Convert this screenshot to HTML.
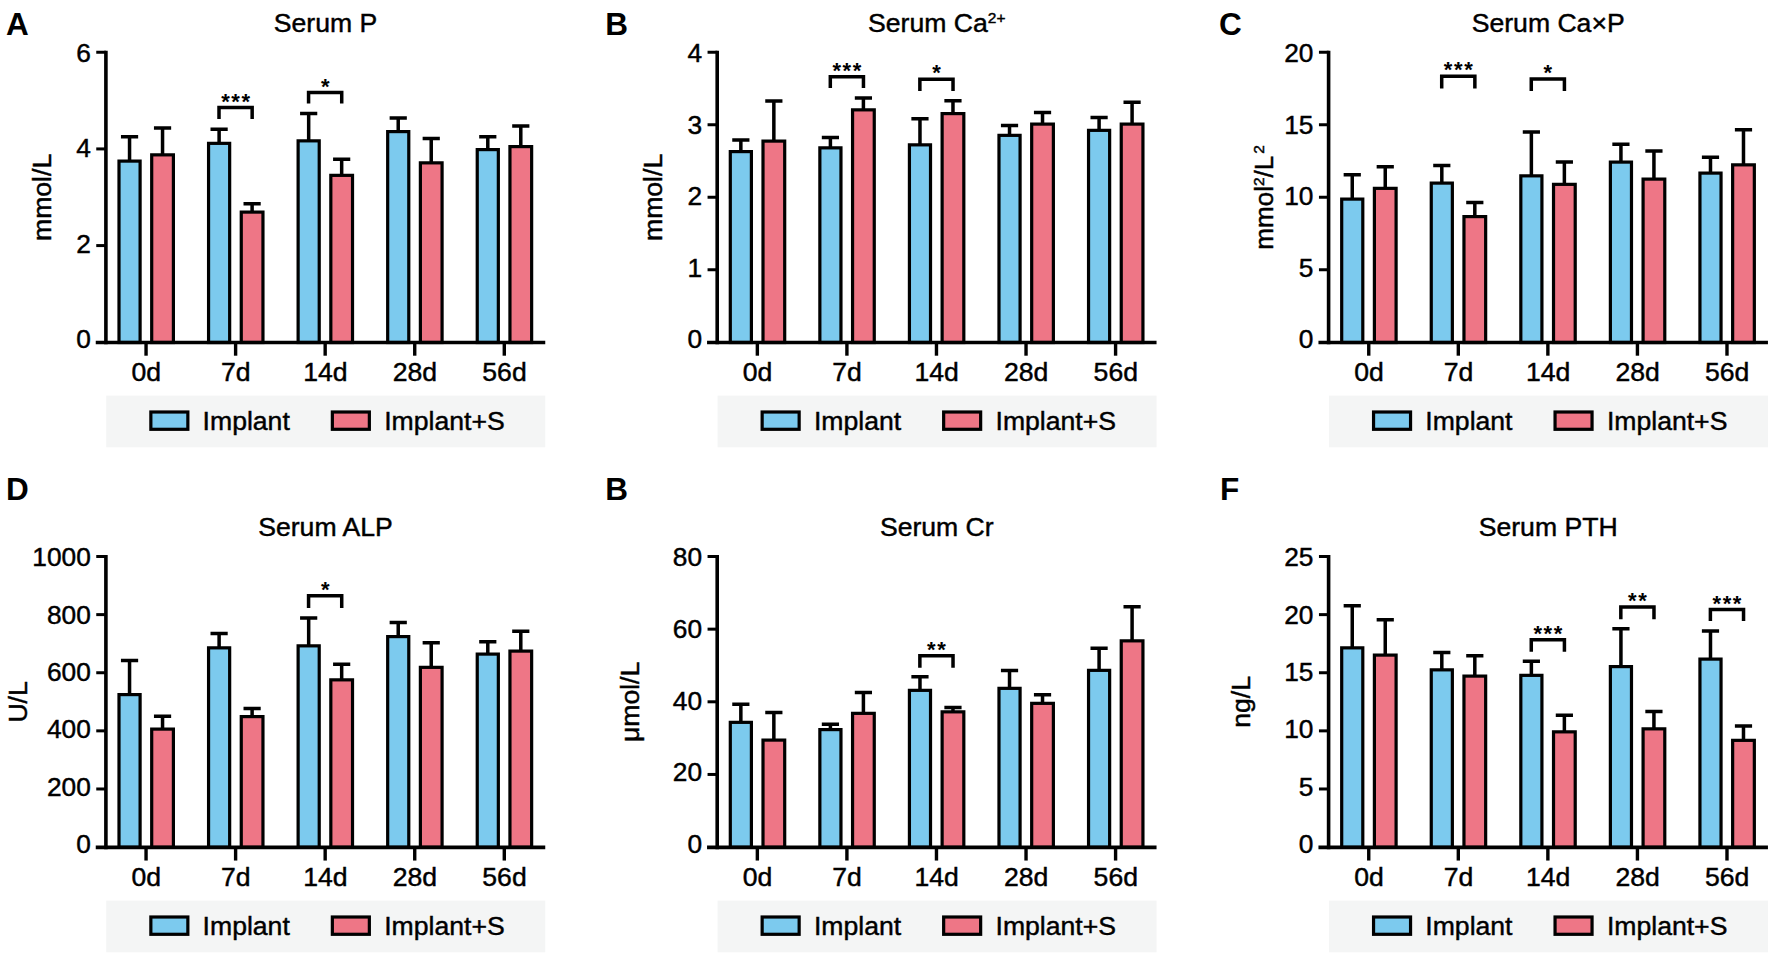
<!DOCTYPE html>
<html lang="en">
<head>
<meta charset="utf-8">
<title>Serum biochemistry: Implant vs Implant+S</title>
<style>
html,body{margin:0;padding:0;background:#fff;}
body{width:1772px;height:956px;overflow:hidden;font-family:"Liberation Sans",sans-serif;}
svg{display:block;}
</style>
</head>
<body>
<svg width="1772" height="956" viewBox="0 0 1772 956">
<rect x="0" y="0" width="1772" height="956" fill="#fff"/>
<g font-family="'Liberation Sans', sans-serif" fill="#000" stroke="#000" stroke-width="0.45">
<g>
<rect x="106.25" y="395.6" width="439" height="51.7" fill="#F4F5F5" stroke="none"/>
<path d="M129.55 160.5 V136.7 M120.95 136.7H138.15" stroke="#000" stroke-width="3.5" fill="none"/>
<rect x="119" y="161.1" width="21.1" height="181.4" fill="#7CCAEE" stroke="#000" stroke-width="3.2"/>
<path d="M162.55 154.25 V127.95 M153.95 127.95H171.15" stroke="#000" stroke-width="3.5" fill="none"/>
<rect x="151.7" y="154.85" width="21.7" height="187.65" fill="#EE7686" stroke="#000" stroke-width="3.2"/>
<path d="M219.11 142.75 V129.2 M210.51 129.2H227.71" stroke="#000" stroke-width="3.5" fill="none"/>
<rect x="208.56" y="143.35" width="21.1" height="199.15" fill="#7CCAEE" stroke="#000" stroke-width="3.2"/>
<path d="M252.11 211.5 V203.7 M243.51 203.7H260.71" stroke="#000" stroke-width="3.5" fill="none"/>
<rect x="241.26" y="212.1" width="21.7" height="130.4" fill="#EE7686" stroke="#000" stroke-width="3.2"/>
<path d="M308.67 140.25 V113.45 M300.07 113.45H317.27" stroke="#000" stroke-width="3.5" fill="none"/>
<rect x="298.12" y="140.85" width="21.1" height="201.65" fill="#7CCAEE" stroke="#000" stroke-width="3.2"/>
<path d="M341.67 174.75 V159.2 M333.07 159.2H350.27" stroke="#000" stroke-width="3.5" fill="none"/>
<rect x="330.82" y="175.35" width="21.7" height="167.15" fill="#EE7686" stroke="#000" stroke-width="3.2"/>
<path d="M398.23 131 V117.95 M389.63 117.95H406.83" stroke="#000" stroke-width="3.5" fill="none"/>
<rect x="387.68" y="131.6" width="21.1" height="210.9" fill="#7CCAEE" stroke="#000" stroke-width="3.2"/>
<path d="M431.23 162.25 V138.45 M422.63 138.45H439.83" stroke="#000" stroke-width="3.5" fill="none"/>
<rect x="420.38" y="162.85" width="21.7" height="179.65" fill="#EE7686" stroke="#000" stroke-width="3.2"/>
<path d="M487.79 149 V136.7 M479.19 136.7H496.39" stroke="#000" stroke-width="3.5" fill="none"/>
<rect x="477.24" y="149.6" width="21.1" height="192.9" fill="#7CCAEE" stroke="#000" stroke-width="3.2"/>
<path d="M520.79 146 V125.9 M512.19 125.9H529.39" stroke="#000" stroke-width="3.5" fill="none"/>
<rect x="509.94" y="146.6" width="21.7" height="195.9" fill="#EE7686" stroke="#000" stroke-width="3.2"/>
<path d="M219.01 118.9V107.4H252.16V118.9" stroke="#000" stroke-width="3.5" fill="none"/>
<text x="236.41" y="108.55" font-size="22" font-weight="bold" stroke="none" letter-spacing="1.6" text-anchor="middle">***</text>
<path d="M308.57 103.4V92.4H341.72V103.4" stroke="#000" stroke-width="3.5" fill="none"/>
<text x="325.97" y="93.55" font-size="22" font-weight="bold" stroke="none" letter-spacing="1.6" text-anchor="middle">*</text>
<path d="M105.9 50.75V344.3" stroke="#000" stroke-width="3.6" fill="none"/>
<path d="M95.75 342.5H545.25" stroke="#000" stroke-width="3.6" fill="none"/>
<text x="90.8" y="348" font-size="26.3" text-anchor="end">0</text>
<path d="M96.25 245.58H106" stroke="#000" stroke-width="3" fill="none"/>
<text x="90.8" y="252.7" font-size="26.3" text-anchor="end">2</text>
<path d="M96.25 148.92H106" stroke="#000" stroke-width="3" fill="none"/>
<text x="90.8" y="157.4" font-size="26.3" text-anchor="end">4</text>
<path d="M96.25 52.25H106" stroke="#000" stroke-width="3" fill="none"/>
<text x="90.8" y="62.1" font-size="26.3" text-anchor="end">6</text>
<path d="M146.05 342.5V355.7" stroke="#000" stroke-width="3.4" fill="none"/>
<text x="146.25" y="381.25" font-size="26.6" text-anchor="middle">0d</text>
<path d="M235.61 342.5V355.7" stroke="#000" stroke-width="3.4" fill="none"/>
<text x="235.81" y="381.25" font-size="26.6" text-anchor="middle">7d</text>
<path d="M325.17 342.5V355.7" stroke="#000" stroke-width="3.4" fill="none"/>
<text x="325.37" y="381.25" font-size="26.6" text-anchor="middle">14d</text>
<path d="M414.73 342.5V355.7" stroke="#000" stroke-width="3.4" fill="none"/>
<text x="414.93" y="381.25" font-size="26.6" text-anchor="middle">28d</text>
<path d="M504.29 342.5V355.7" stroke="#000" stroke-width="3.4" fill="none"/>
<text x="504.49" y="381.25" font-size="26.6" text-anchor="middle">56d</text>
<text x="325.5" y="31.75" font-size="26.6" text-anchor="middle">Serum P</text>
<text x="6" y="34.7" font-size="31.5" font-weight="bold" stroke="none">A</text>
<text transform="translate(50.8 197.38) rotate(-90)" font-size="26.6" text-anchor="middle">mmol/L</text>
<rect x="150.85" y="412" width="37" height="17.3" fill="#7CCAEE" stroke="#000" stroke-width="3.2"/>
<text x="202.6" y="429.9" font-size="26.6">Implant</text>
<rect x="332.35" y="412" width="37" height="17.3" fill="#EE7686" stroke="#000" stroke-width="3.2"/>
<text x="384.2" y="429.9" font-size="26.6">Implant+S</text>
</g>
<g>
<rect x="717.55" y="395.6" width="439" height="51.7" fill="#F4F5F5" stroke="none"/>
<path d="M740.85 151 V139.95 M732.25 139.95H749.45" stroke="#000" stroke-width="3.5" fill="none"/>
<rect x="730.3" y="151.6" width="21.1" height="190.9" fill="#7CCAEE" stroke="#000" stroke-width="3.2"/>
<path d="M773.85 140.5 V100.95 M765.25 100.95H782.45" stroke="#000" stroke-width="3.5" fill="none"/>
<rect x="763" y="141.1" width="21.7" height="201.4" fill="#EE7686" stroke="#000" stroke-width="3.2"/>
<path d="M830.41 147.25 V137.45 M821.81 137.45H839.01" stroke="#000" stroke-width="3.5" fill="none"/>
<rect x="819.86" y="147.85" width="21.1" height="194.65" fill="#7CCAEE" stroke="#000" stroke-width="3.2"/>
<path d="M863.41 109.25 V97.95 M854.81 97.95H872.01" stroke="#000" stroke-width="3.5" fill="none"/>
<rect x="852.56" y="109.85" width="21.7" height="232.65" fill="#EE7686" stroke="#000" stroke-width="3.2"/>
<path d="M919.97 144.25 V118.7 M911.37 118.7H928.57" stroke="#000" stroke-width="3.5" fill="none"/>
<rect x="909.42" y="144.85" width="21.1" height="197.65" fill="#7CCAEE" stroke="#000" stroke-width="3.2"/>
<path d="M952.97 113 V100.7 M944.37 100.7H961.57" stroke="#000" stroke-width="3.5" fill="none"/>
<rect x="942.12" y="113.6" width="21.7" height="228.9" fill="#EE7686" stroke="#000" stroke-width="3.2"/>
<path d="M1009.53 134.75 V125.45 M1000.93 125.45H1018.13" stroke="#000" stroke-width="3.5" fill="none"/>
<rect x="998.98" y="135.35" width="21.1" height="207.15" fill="#7CCAEE" stroke="#000" stroke-width="3.2"/>
<path d="M1042.53 123.5 V112.45 M1033.93 112.45H1051.13" stroke="#000" stroke-width="3.5" fill="none"/>
<rect x="1031.68" y="124.1" width="21.7" height="218.4" fill="#EE7686" stroke="#000" stroke-width="3.2"/>
<path d="M1099.09 129.75 V117.45 M1090.49 117.45H1107.69" stroke="#000" stroke-width="3.5" fill="none"/>
<rect x="1088.54" y="130.35" width="21.1" height="212.15" fill="#7CCAEE" stroke="#000" stroke-width="3.2"/>
<path d="M1132.09 123.5 V102.2 M1123.49 102.2H1140.69" stroke="#000" stroke-width="3.5" fill="none"/>
<rect x="1121.24" y="124.1" width="21.7" height="218.4" fill="#EE7686" stroke="#000" stroke-width="3.2"/>
<path d="M830.31 88.1V76.65H863.46V88.1" stroke="#000" stroke-width="3.5" fill="none"/>
<text x="847.71" y="77.8" font-size="22" font-weight="bold" stroke="none" letter-spacing="1.6" text-anchor="middle">***</text>
<path d="M919.87 90.9V79.15H953.02V90.9" stroke="#000" stroke-width="3.5" fill="none"/>
<text x="937.27" y="80.3" font-size="22" font-weight="bold" stroke="none" letter-spacing="1.6" text-anchor="middle">*</text>
<path d="M717.2 50.75V344.3" stroke="#000" stroke-width="3.6" fill="none"/>
<path d="M707.05 342.5H1156.55" stroke="#000" stroke-width="3.6" fill="none"/>
<text x="702.1" y="348" font-size="26.3" text-anchor="end">0</text>
<path d="M707.55 269.75H717.3" stroke="#000" stroke-width="3" fill="none"/>
<text x="702.1" y="276.52" font-size="26.3" text-anchor="end">1</text>
<path d="M707.55 197.25H717.3" stroke="#000" stroke-width="3" fill="none"/>
<text x="702.1" y="205.05" font-size="26.3" text-anchor="end">2</text>
<path d="M707.55 124.75H717.3" stroke="#000" stroke-width="3" fill="none"/>
<text x="702.1" y="133.57" font-size="26.3" text-anchor="end">3</text>
<path d="M707.55 52.25H717.3" stroke="#000" stroke-width="3" fill="none"/>
<text x="702.1" y="62.1" font-size="26.3" text-anchor="end">4</text>
<path d="M757.35 342.5V355.7" stroke="#000" stroke-width="3.4" fill="none"/>
<text x="757.55" y="381.25" font-size="26.6" text-anchor="middle">0d</text>
<path d="M846.91 342.5V355.7" stroke="#000" stroke-width="3.4" fill="none"/>
<text x="847.11" y="381.25" font-size="26.6" text-anchor="middle">7d</text>
<path d="M936.47 342.5V355.7" stroke="#000" stroke-width="3.4" fill="none"/>
<text x="936.67" y="381.25" font-size="26.6" text-anchor="middle">14d</text>
<path d="M1026.03 342.5V355.7" stroke="#000" stroke-width="3.4" fill="none"/>
<text x="1026.23" y="381.25" font-size="26.6" text-anchor="middle">28d</text>
<path d="M1115.59 342.5V355.7" stroke="#000" stroke-width="3.4" fill="none"/>
<text x="1115.79" y="381.25" font-size="26.6" text-anchor="middle">56d</text>
<text x="936.8" y="31.75" font-size="26.6" text-anchor="middle">Serum Ca<tspan font-size="15.5" dy="-8.8">2+</tspan></text>
<text x="605.2" y="34.7" font-size="31.5" font-weight="bold" stroke="none">B</text>
<text transform="translate(662 197.38) rotate(-90)" font-size="26.6" text-anchor="middle">mmol/L</text>
<rect x="762.15" y="412" width="37" height="17.3" fill="#7CCAEE" stroke="#000" stroke-width="3.2"/>
<text x="813.9" y="429.9" font-size="26.6">Implant</text>
<rect x="943.65" y="412" width="37" height="17.3" fill="#EE7686" stroke="#000" stroke-width="3.2"/>
<text x="995.5" y="429.9" font-size="26.6">Implant+S</text>
</g>
<g>
<rect x="1328.95" y="395.6" width="439" height="51.7" fill="#F4F5F5" stroke="none"/>
<path d="M1352.25 198.5 V174.7 M1343.65 174.7H1360.85" stroke="#000" stroke-width="3.5" fill="none"/>
<rect x="1341.7" y="199.1" width="21.1" height="143.4" fill="#7CCAEE" stroke="#000" stroke-width="3.2"/>
<path d="M1385.25 187.75 V166.7 M1376.65 166.7H1393.85" stroke="#000" stroke-width="3.5" fill="none"/>
<rect x="1374.4" y="188.35" width="21.7" height="154.15" fill="#EE7686" stroke="#000" stroke-width="3.2"/>
<path d="M1441.81 182.5 V165.45 M1433.21 165.45H1450.41" stroke="#000" stroke-width="3.5" fill="none"/>
<rect x="1431.26" y="183.1" width="21.1" height="159.4" fill="#7CCAEE" stroke="#000" stroke-width="3.2"/>
<path d="M1474.81 216 V202.45 M1466.21 202.45H1483.41" stroke="#000" stroke-width="3.5" fill="none"/>
<rect x="1463.96" y="216.6" width="21.7" height="125.9" fill="#EE7686" stroke="#000" stroke-width="3.2"/>
<path d="M1531.37 175.25 V131.95 M1522.77 131.95H1539.97" stroke="#000" stroke-width="3.5" fill="none"/>
<rect x="1520.82" y="175.85" width="21.1" height="166.65" fill="#7CCAEE" stroke="#000" stroke-width="3.2"/>
<path d="M1564.37 183.75 V161.95 M1555.77 161.95H1572.97" stroke="#000" stroke-width="3.5" fill="none"/>
<rect x="1553.52" y="184.35" width="21.7" height="158.15" fill="#EE7686" stroke="#000" stroke-width="3.2"/>
<path d="M1620.93 161.5 V144.2 M1612.33 144.2H1629.53" stroke="#000" stroke-width="3.5" fill="none"/>
<rect x="1610.38" y="162.1" width="21.1" height="180.4" fill="#7CCAEE" stroke="#000" stroke-width="3.2"/>
<path d="M1653.93 178.5 V150.95 M1645.33 150.95H1662.53" stroke="#000" stroke-width="3.5" fill="none"/>
<rect x="1643.08" y="179.1" width="21.7" height="163.4" fill="#EE7686" stroke="#000" stroke-width="3.2"/>
<path d="M1710.49 172.5 V157.2 M1701.89 157.2H1719.09" stroke="#000" stroke-width="3.5" fill="none"/>
<rect x="1699.94" y="173.1" width="21.1" height="169.4" fill="#7CCAEE" stroke="#000" stroke-width="3.2"/>
<path d="M1743.49 164.25 V129.7 M1734.89 129.7H1752.09" stroke="#000" stroke-width="3.5" fill="none"/>
<rect x="1732.64" y="164.85" width="21.7" height="177.65" fill="#EE7686" stroke="#000" stroke-width="3.2"/>
<path d="M1441.71 88.4V76.15H1474.86V88.4" stroke="#000" stroke-width="3.5" fill="none"/>
<text x="1459.11" y="77.3" font-size="22" font-weight="bold" stroke="none" letter-spacing="1.6" text-anchor="middle">***</text>
<path d="M1531.27 90.9V78.9H1564.42V90.9" stroke="#000" stroke-width="3.5" fill="none"/>
<text x="1548.67" y="80.05" font-size="22" font-weight="bold" stroke="none" letter-spacing="1.6" text-anchor="middle">*</text>
<path d="M1328.6 50.75V344.3" stroke="#000" stroke-width="3.6" fill="none"/>
<path d="M1318.45 342.5H1767.95" stroke="#000" stroke-width="3.6" fill="none"/>
<text x="1313.5" y="348" font-size="26.3" text-anchor="end">0</text>
<path d="M1318.95 269.75H1328.7" stroke="#000" stroke-width="3" fill="none"/>
<text x="1313.5" y="276.52" font-size="26.3" text-anchor="end">5</text>
<path d="M1318.95 197.25H1328.7" stroke="#000" stroke-width="3" fill="none"/>
<text x="1313.5" y="205.05" font-size="26.3" text-anchor="end">10</text>
<path d="M1318.95 124.75H1328.7" stroke="#000" stroke-width="3" fill="none"/>
<text x="1313.5" y="133.57" font-size="26.3" text-anchor="end">15</text>
<path d="M1318.95 52.25H1328.7" stroke="#000" stroke-width="3" fill="none"/>
<text x="1313.5" y="62.1" font-size="26.3" text-anchor="end">20</text>
<path d="M1368.75 342.5V355.7" stroke="#000" stroke-width="3.4" fill="none"/>
<text x="1368.95" y="381.25" font-size="26.6" text-anchor="middle">0d</text>
<path d="M1458.31 342.5V355.7" stroke="#000" stroke-width="3.4" fill="none"/>
<text x="1458.51" y="381.25" font-size="26.6" text-anchor="middle">7d</text>
<path d="M1547.87 342.5V355.7" stroke="#000" stroke-width="3.4" fill="none"/>
<text x="1548.07" y="381.25" font-size="26.6" text-anchor="middle">14d</text>
<path d="M1637.43 342.5V355.7" stroke="#000" stroke-width="3.4" fill="none"/>
<text x="1637.63" y="381.25" font-size="26.6" text-anchor="middle">28d</text>
<path d="M1726.99 342.5V355.7" stroke="#000" stroke-width="3.4" fill="none"/>
<text x="1727.19" y="381.25" font-size="26.6" text-anchor="middle">56d</text>
<text x="1548.2" y="31.75" font-size="26.6" text-anchor="middle">Serum Ca×P</text>
<text x="1219" y="34.7" font-size="31.5" font-weight="bold" stroke="none">C</text>
<text transform="translate(1273 197.38) rotate(-90)" font-size="26" text-anchor="middle">mmol<tspan font-size="15.5" dy="-9.5">2</tspan><tspan dy="9.5">/L</tspan><tspan font-size="15.5" dy="-9.5" dx="2">2</tspan></text>
<rect x="1373.55" y="412" width="37" height="17.3" fill="#7CCAEE" stroke="#000" stroke-width="3.2"/>
<text x="1425.3" y="429.9" font-size="26.6">Implant</text>
<rect x="1555.05" y="412" width="37" height="17.3" fill="#EE7686" stroke="#000" stroke-width="3.2"/>
<text x="1606.9" y="429.9" font-size="26.6">Implant+S</text>
</g>
<g>
<rect x="106.25" y="900.6" width="439" height="51.7" fill="#F4F5F5" stroke="none"/>
<path d="M129.55 694 V660.45 M120.95 660.45H138.15" stroke="#000" stroke-width="3.5" fill="none"/>
<rect x="119" y="694.6" width="21.1" height="152.75" fill="#7CCAEE" stroke="#000" stroke-width="3.2"/>
<path d="M162.55 728.5 V716.2 M153.95 716.2H171.15" stroke="#000" stroke-width="3.5" fill="none"/>
<rect x="151.7" y="729.1" width="21.7" height="118.25" fill="#EE7686" stroke="#000" stroke-width="3.2"/>
<path d="M219.11 647.25 V633.45 M210.51 633.45H227.71" stroke="#000" stroke-width="3.5" fill="none"/>
<rect x="208.56" y="647.85" width="21.1" height="199.5" fill="#7CCAEE" stroke="#000" stroke-width="3.2"/>
<path d="M252.11 716 V708.45 M243.51 708.45H260.71" stroke="#000" stroke-width="3.5" fill="none"/>
<rect x="241.26" y="716.6" width="21.7" height="130.75" fill="#EE7686" stroke="#000" stroke-width="3.2"/>
<path d="M308.67 645.25 V617.95 M300.07 617.95H317.27" stroke="#000" stroke-width="3.5" fill="none"/>
<rect x="298.12" y="645.85" width="21.1" height="201.5" fill="#7CCAEE" stroke="#000" stroke-width="3.2"/>
<path d="M341.67 679.25 V664.2 M333.07 664.2H350.27" stroke="#000" stroke-width="3.5" fill="none"/>
<rect x="330.82" y="679.85" width="21.7" height="167.5" fill="#EE7686" stroke="#000" stroke-width="3.2"/>
<path d="M398.23 636 V622.45 M389.63 622.45H406.83" stroke="#000" stroke-width="3.5" fill="none"/>
<rect x="387.68" y="636.6" width="21.1" height="210.75" fill="#7CCAEE" stroke="#000" stroke-width="3.2"/>
<path d="M431.23 666.75 V642.7 M422.63 642.7H439.83" stroke="#000" stroke-width="3.5" fill="none"/>
<rect x="420.38" y="667.35" width="21.7" height="180" fill="#EE7686" stroke="#000" stroke-width="3.2"/>
<path d="M487.79 653.5 V641.7 M479.19 641.7H496.39" stroke="#000" stroke-width="3.5" fill="none"/>
<rect x="477.24" y="654.1" width="21.1" height="193.25" fill="#7CCAEE" stroke="#000" stroke-width="3.2"/>
<path d="M520.79 650.5 V631.2 M512.19 631.2H529.39" stroke="#000" stroke-width="3.5" fill="none"/>
<rect x="509.94" y="651.1" width="21.7" height="196.25" fill="#EE7686" stroke="#000" stroke-width="3.2"/>
<path d="M308.57 607.9V595.65H341.72V607.9" stroke="#000" stroke-width="3.5" fill="none"/>
<text x="325.97" y="596.8" font-size="22" font-weight="bold" stroke="none" letter-spacing="1.6" text-anchor="middle">*</text>
<path d="M105.9 555V849.15" stroke="#000" stroke-width="3.6" fill="none"/>
<path d="M95.75 847.35H545.25" stroke="#000" stroke-width="3.6" fill="none"/>
<text x="90.8" y="852.85" font-size="26.3" text-anchor="end">0</text>
<path d="M96.25 788.98H106" stroke="#000" stroke-width="3" fill="none"/>
<text x="90.8" y="795.55" font-size="26.3" text-anchor="end">200</text>
<path d="M96.25 730.86H106" stroke="#000" stroke-width="3" fill="none"/>
<text x="90.8" y="738.25" font-size="26.3" text-anchor="end">400</text>
<path d="M96.25 672.74H106" stroke="#000" stroke-width="3" fill="none"/>
<text x="90.8" y="680.95" font-size="26.3" text-anchor="end">600</text>
<path d="M96.25 614.62H106" stroke="#000" stroke-width="3" fill="none"/>
<text x="90.8" y="623.65" font-size="26.3" text-anchor="end">800</text>
<path d="M96.25 556.5H106" stroke="#000" stroke-width="3" fill="none"/>
<text x="90.8" y="566.35" font-size="26.3" text-anchor="end">1000</text>
<path d="M146.05 847.35V860.55" stroke="#000" stroke-width="3.4" fill="none"/>
<text x="146.25" y="885.5" font-size="26.6" text-anchor="middle">0d</text>
<path d="M235.61 847.35V860.55" stroke="#000" stroke-width="3.4" fill="none"/>
<text x="235.81" y="885.5" font-size="26.6" text-anchor="middle">7d</text>
<path d="M325.17 847.35V860.55" stroke="#000" stroke-width="3.4" fill="none"/>
<text x="325.37" y="885.5" font-size="26.6" text-anchor="middle">14d</text>
<path d="M414.73 847.35V860.55" stroke="#000" stroke-width="3.4" fill="none"/>
<text x="414.93" y="885.5" font-size="26.6" text-anchor="middle">28d</text>
<path d="M504.29 847.35V860.55" stroke="#000" stroke-width="3.4" fill="none"/>
<text x="504.49" y="885.5" font-size="26.6" text-anchor="middle">56d</text>
<text x="325.5" y="536" font-size="26.6" text-anchor="middle">Serum ALP</text>
<text x="6" y="499.8" font-size="31.5" font-weight="bold" stroke="none">D</text>
<text transform="translate(26.5 701.92) rotate(-90)" font-size="26.6" text-anchor="middle">U/L</text>
<rect x="150.85" y="917" width="37" height="17.3" fill="#7CCAEE" stroke="#000" stroke-width="3.2"/>
<text x="202.6" y="934.9" font-size="26.6">Implant</text>
<rect x="332.35" y="917" width="37" height="17.3" fill="#EE7686" stroke="#000" stroke-width="3.2"/>
<text x="384.2" y="934.9" font-size="26.6">Implant+S</text>
</g>
<g>
<rect x="717.55" y="900.6" width="439" height="51.7" fill="#F4F5F5" stroke="none"/>
<path d="M740.85 721.75 V704.2 M732.25 704.2H749.45" stroke="#000" stroke-width="3.5" fill="none"/>
<rect x="730.3" y="722.35" width="21.1" height="125" fill="#7CCAEE" stroke="#000" stroke-width="3.2"/>
<path d="M773.85 739.5 V712.45 M765.25 712.45H782.45" stroke="#000" stroke-width="3.5" fill="none"/>
<rect x="763" y="740.1" width="21.7" height="107.25" fill="#EE7686" stroke="#000" stroke-width="3.2"/>
<path d="M830.41 729 V724.2 M821.81 724.2H839.01" stroke="#000" stroke-width="3.5" fill="none"/>
<rect x="819.86" y="729.6" width="21.1" height="117.75" fill="#7CCAEE" stroke="#000" stroke-width="3.2"/>
<path d="M863.41 712.75 V692.45 M854.81 692.45H872.01" stroke="#000" stroke-width="3.5" fill="none"/>
<rect x="852.56" y="713.35" width="21.7" height="134" fill="#EE7686" stroke="#000" stroke-width="3.2"/>
<path d="M919.97 689.75 V676.7 M911.37 676.7H928.57" stroke="#000" stroke-width="3.5" fill="none"/>
<rect x="909.42" y="690.35" width="21.1" height="157" fill="#7CCAEE" stroke="#000" stroke-width="3.2"/>
<path d="M952.97 711.25 V707.45 M944.37 707.45H961.57" stroke="#000" stroke-width="3.5" fill="none"/>
<rect x="942.12" y="711.85" width="21.7" height="135.5" fill="#EE7686" stroke="#000" stroke-width="3.2"/>
<path d="M1009.53 687.75 V670.45 M1000.93 670.45H1018.13" stroke="#000" stroke-width="3.5" fill="none"/>
<rect x="998.98" y="688.35" width="21.1" height="159" fill="#7CCAEE" stroke="#000" stroke-width="3.2"/>
<path d="M1042.53 702.75 V694.7 M1033.93 694.7H1051.13" stroke="#000" stroke-width="3.5" fill="none"/>
<rect x="1031.68" y="703.35" width="21.7" height="144" fill="#EE7686" stroke="#000" stroke-width="3.2"/>
<path d="M1099.09 669.75 V648.2 M1090.49 648.2H1107.69" stroke="#000" stroke-width="3.5" fill="none"/>
<rect x="1088.54" y="670.35" width="21.1" height="177" fill="#7CCAEE" stroke="#000" stroke-width="3.2"/>
<path d="M1132.09 640.25 V606.7 M1123.49 606.7H1140.69" stroke="#000" stroke-width="3.5" fill="none"/>
<rect x="1121.24" y="640.85" width="21.7" height="206.5" fill="#EE7686" stroke="#000" stroke-width="3.2"/>
<path d="M919.87 667.65V655.65H953.02V667.65" stroke="#000" stroke-width="3.5" fill="none"/>
<text x="937.27" y="656.8" font-size="22" font-weight="bold" stroke="none" letter-spacing="1.6" text-anchor="middle">**</text>
<path d="M717.2 555V849.15" stroke="#000" stroke-width="3.6" fill="none"/>
<path d="M707.05 847.35H1156.55" stroke="#000" stroke-width="3.6" fill="none"/>
<text x="702.1" y="852.85" font-size="26.3" text-anchor="end">0</text>
<path d="M707.55 774.45H717.3" stroke="#000" stroke-width="3" fill="none"/>
<text x="702.1" y="781.23" font-size="26.3" text-anchor="end">20</text>
<path d="M707.55 701.8H717.3" stroke="#000" stroke-width="3" fill="none"/>
<text x="702.1" y="709.6" font-size="26.3" text-anchor="end">40</text>
<path d="M707.55 629.15H717.3" stroke="#000" stroke-width="3" fill="none"/>
<text x="702.1" y="637.98" font-size="26.3" text-anchor="end">60</text>
<path d="M707.55 556.5H717.3" stroke="#000" stroke-width="3" fill="none"/>
<text x="702.1" y="566.35" font-size="26.3" text-anchor="end">80</text>
<path d="M757.35 847.35V860.55" stroke="#000" stroke-width="3.4" fill="none"/>
<text x="757.55" y="885.5" font-size="26.6" text-anchor="middle">0d</text>
<path d="M846.91 847.35V860.55" stroke="#000" stroke-width="3.4" fill="none"/>
<text x="847.11" y="885.5" font-size="26.6" text-anchor="middle">7d</text>
<path d="M936.47 847.35V860.55" stroke="#000" stroke-width="3.4" fill="none"/>
<text x="936.67" y="885.5" font-size="26.6" text-anchor="middle">14d</text>
<path d="M1026.03 847.35V860.55" stroke="#000" stroke-width="3.4" fill="none"/>
<text x="1026.23" y="885.5" font-size="26.6" text-anchor="middle">28d</text>
<path d="M1115.59 847.35V860.55" stroke="#000" stroke-width="3.4" fill="none"/>
<text x="1115.79" y="885.5" font-size="26.6" text-anchor="middle">56d</text>
<text x="936.8" y="536" font-size="26.6" text-anchor="middle">Serum Cr</text>
<text x="605.2" y="499.8" font-size="31.5" font-weight="bold" stroke="none">B</text>
<text transform="translate(638.9 701.92) rotate(-90)" font-size="26.6" text-anchor="middle">μmol/L</text>
<rect x="762.15" y="917" width="37" height="17.3" fill="#7CCAEE" stroke="#000" stroke-width="3.2"/>
<text x="813.9" y="934.9" font-size="26.6">Implant</text>
<rect x="943.65" y="917" width="37" height="17.3" fill="#EE7686" stroke="#000" stroke-width="3.2"/>
<text x="995.5" y="934.9" font-size="26.6">Implant+S</text>
</g>
<g>
<rect x="1328.95" y="900.6" width="439" height="51.7" fill="#F4F5F5" stroke="none"/>
<path d="M1352.25 647.25 V605.7 M1343.65 605.7H1360.85" stroke="#000" stroke-width="3.5" fill="none"/>
<rect x="1341.7" y="647.85" width="21.1" height="199.5" fill="#7CCAEE" stroke="#000" stroke-width="3.2"/>
<path d="M1385.25 654.5 V619.7 M1376.65 619.7H1393.85" stroke="#000" stroke-width="3.5" fill="none"/>
<rect x="1374.4" y="655.1" width="21.7" height="192.25" fill="#EE7686" stroke="#000" stroke-width="3.2"/>
<path d="M1441.81 669.25 V652.45 M1433.21 652.45H1450.41" stroke="#000" stroke-width="3.5" fill="none"/>
<rect x="1431.26" y="669.85" width="21.1" height="177.5" fill="#7CCAEE" stroke="#000" stroke-width="3.2"/>
<path d="M1474.81 675.5 V655.7 M1466.21 655.7H1483.41" stroke="#000" stroke-width="3.5" fill="none"/>
<rect x="1463.96" y="676.1" width="21.7" height="171.25" fill="#EE7686" stroke="#000" stroke-width="3.2"/>
<path d="M1531.37 674.75 V661.2 M1522.77 661.2H1539.97" stroke="#000" stroke-width="3.5" fill="none"/>
<rect x="1520.82" y="675.35" width="21.1" height="172" fill="#7CCAEE" stroke="#000" stroke-width="3.2"/>
<path d="M1564.37 731.25 V715.2 M1555.77 715.2H1572.97" stroke="#000" stroke-width="3.5" fill="none"/>
<rect x="1553.52" y="731.85" width="21.7" height="115.5" fill="#EE7686" stroke="#000" stroke-width="3.2"/>
<path d="M1620.93 666 V628.7 M1612.33 628.7H1629.53" stroke="#000" stroke-width="3.5" fill="none"/>
<rect x="1610.38" y="666.6" width="21.1" height="180.75" fill="#7CCAEE" stroke="#000" stroke-width="3.2"/>
<path d="M1653.93 728.25 V711.45 M1645.33 711.45H1662.53" stroke="#000" stroke-width="3.5" fill="none"/>
<rect x="1643.08" y="728.85" width="21.7" height="118.5" fill="#EE7686" stroke="#000" stroke-width="3.2"/>
<path d="M1710.49 658.5 V630.95 M1701.89 630.95H1719.09" stroke="#000" stroke-width="3.5" fill="none"/>
<rect x="1699.94" y="659.1" width="21.1" height="188.25" fill="#7CCAEE" stroke="#000" stroke-width="3.2"/>
<path d="M1743.49 739.75 V725.95 M1734.89 725.95H1752.09" stroke="#000" stroke-width="3.5" fill="none"/>
<rect x="1732.64" y="740.35" width="21.7" height="107" fill="#EE7686" stroke="#000" stroke-width="3.2"/>
<path d="M1531.27 651.65V639.65H1564.42V651.65" stroke="#000" stroke-width="3.5" fill="none"/>
<text x="1548.67" y="640.8" font-size="22" font-weight="bold" stroke="none" letter-spacing="1.6" text-anchor="middle">***</text>
<path d="M1620.83 619.15V606.9H1653.98V619.15" stroke="#000" stroke-width="3.5" fill="none"/>
<text x="1638.23" y="608.05" font-size="22" font-weight="bold" stroke="none" letter-spacing="1.6" text-anchor="middle">**</text>
<path d="M1710.39 620.9V609.4H1743.54V620.9" stroke="#000" stroke-width="3.5" fill="none"/>
<text x="1727.79" y="610.55" font-size="22" font-weight="bold" stroke="none" letter-spacing="1.6" text-anchor="middle">***</text>
<path d="M1328.6 555V849.15" stroke="#000" stroke-width="3.6" fill="none"/>
<path d="M1318.45 847.35H1767.95" stroke="#000" stroke-width="3.6" fill="none"/>
<text x="1313.5" y="852.85" font-size="26.3" text-anchor="end">0</text>
<path d="M1318.95 788.98H1328.7" stroke="#000" stroke-width="3" fill="none"/>
<text x="1313.5" y="795.55" font-size="26.3" text-anchor="end">5</text>
<path d="M1318.95 730.86H1328.7" stroke="#000" stroke-width="3" fill="none"/>
<text x="1313.5" y="738.25" font-size="26.3" text-anchor="end">10</text>
<path d="M1318.95 672.74H1328.7" stroke="#000" stroke-width="3" fill="none"/>
<text x="1313.5" y="680.95" font-size="26.3" text-anchor="end">15</text>
<path d="M1318.95 614.62H1328.7" stroke="#000" stroke-width="3" fill="none"/>
<text x="1313.5" y="623.65" font-size="26.3" text-anchor="end">20</text>
<path d="M1318.95 556.5H1328.7" stroke="#000" stroke-width="3" fill="none"/>
<text x="1313.5" y="566.35" font-size="26.3" text-anchor="end">25</text>
<path d="M1368.75 847.35V860.55" stroke="#000" stroke-width="3.4" fill="none"/>
<text x="1368.95" y="885.5" font-size="26.6" text-anchor="middle">0d</text>
<path d="M1458.31 847.35V860.55" stroke="#000" stroke-width="3.4" fill="none"/>
<text x="1458.51" y="885.5" font-size="26.6" text-anchor="middle">7d</text>
<path d="M1547.87 847.35V860.55" stroke="#000" stroke-width="3.4" fill="none"/>
<text x="1548.07" y="885.5" font-size="26.6" text-anchor="middle">14d</text>
<path d="M1637.43 847.35V860.55" stroke="#000" stroke-width="3.4" fill="none"/>
<text x="1637.63" y="885.5" font-size="26.6" text-anchor="middle">28d</text>
<path d="M1726.99 847.35V860.55" stroke="#000" stroke-width="3.4" fill="none"/>
<text x="1727.19" y="885.5" font-size="26.6" text-anchor="middle">56d</text>
<text x="1548.2" y="536" font-size="26.6" text-anchor="middle">Serum PTH</text>
<text x="1220" y="499.8" font-size="31.5" font-weight="bold" stroke="none">F</text>
<text transform="translate(1249.6 701.92) rotate(-90)" font-size="26.6" text-anchor="middle">ng/L</text>
<rect x="1373.55" y="917" width="37" height="17.3" fill="#7CCAEE" stroke="#000" stroke-width="3.2"/>
<text x="1425.3" y="934.9" font-size="26.6">Implant</text>
<rect x="1555.05" y="917" width="37" height="17.3" fill="#EE7686" stroke="#000" stroke-width="3.2"/>
<text x="1606.9" y="934.9" font-size="26.6">Implant+S</text>
</g>
</g>
</svg>
</body>
</html>
